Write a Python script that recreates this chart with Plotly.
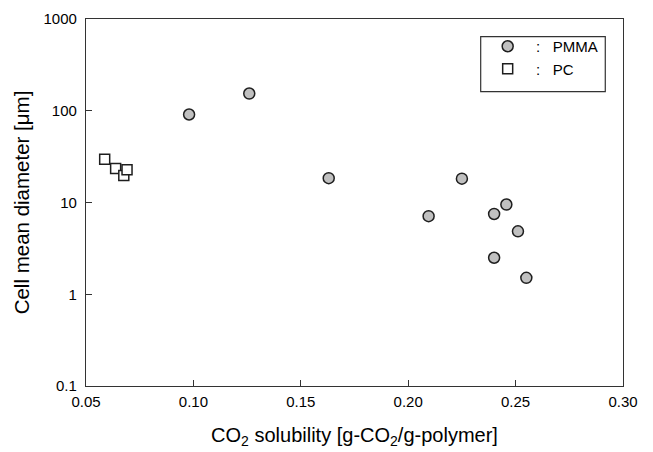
import plotly.graph_objects as go

# Data
pmma_x = [0.098, 0.126, 0.163, 0.2095, 0.225, 0.240, 0.2457, 0.2511, 0.240, 0.255]
pmma_y = [91, 154, 18.4, 7.1, 18.2, 7.5, 9.5, 4.85, 2.5, 1.51]
pc_x = [0.0587, 0.0638, 0.0676, 0.0691]
pc_y = [29.6, 23.5, 19.7, 22.8]

x_ticks = [0.05, 0.10, 0.15, 0.20, 0.25, 0.30]
y_ticks = [0.1, 1, 10, 100, 1000]
y_ticktext = ["0.1", "1", "10", "100", "1000"]

FONT = "Liberation Sans, Arial, sans-serif"
NB = "\u00a0"

fig = go.Figure()
fig.add_trace(go.Scatter(
    x=pmma_x, y=pmma_y, mode="markers",
    name=NB * 2 + ":" + NB * 3 + "PMMA",
    marker=dict(symbol="circle", size=11, color="#c0c0c0",
                line=dict(color="#1e1e1e", width=1.5)),
))
fig.add_trace(go.Scatter(
    x=pc_x, y=pc_y, mode="markers",
    name=NB * 2 + ":" + NB * 3 + "PC",
    marker=dict(symbol="square", size=10, color="white",
                line=dict(color="#1e1e1e", width=1.5)),
))

fig.update_layout(
    width=653, height=452,
    margin=dict(l=85.5, r=29.7, t=10, b=66),
    paper_bgcolor="white", plot_bgcolor="white",
    font=dict(family=FONT, size=15, color="black"),
    showlegend=True,
    legend=dict(x=0.748, y=0.97, xanchor="left", yanchor="top",
                bgcolor="rgba(0,0,0,0)", borderwidth=0,
                font=dict(size=15), tracegroupgap=0),
    shapes=[dict(type="rect", xref="paper", yref="paper",
                 x0=0.735, x1=0.967, y0=0.802, y1=0.952,
                 line=dict(color="#333333", width=1.2), fillcolor="rgba(0,0,0,0)")],
)
fig.update_xaxes(
    range=[0.05, 0.30], tickvals=x_ticks, tickformat=".2f",
    ticks="inside", ticklen=6, tickwidth=1.2, tickcolor="#333333",
    showline=True, linecolor="#333333", linewidth=1.3, mirror=True,
    showgrid=False, zeroline=False, ticklabelstandoff=2,
    tickfont=dict(size=15, family=FONT),
    title=dict(text="CO<sub>2</sub> solubility [g-CO<sub>2</sub>/g-polymer]",
               font=dict(size=20, family=FONT), standoff=18),
)
fig.update_yaxes(
    type="log", range=[-1, 3], tickvals=y_ticks, ticktext=y_ticktext,
    ticks="inside", ticklen=6, tickwidth=1.2, tickcolor="#333333",
    showline=True, linecolor="#333333", linewidth=1.3, mirror=True,
    showgrid=False, zeroline=False, ticklabelstandoff=5,
    tickfont=dict(size=15, family=FONT),
    title=dict(text="Cell mean diameter [μm]",
               font=dict(size=20.5, family=FONT), standoff=8),
)

fig.write_html("out.html")
